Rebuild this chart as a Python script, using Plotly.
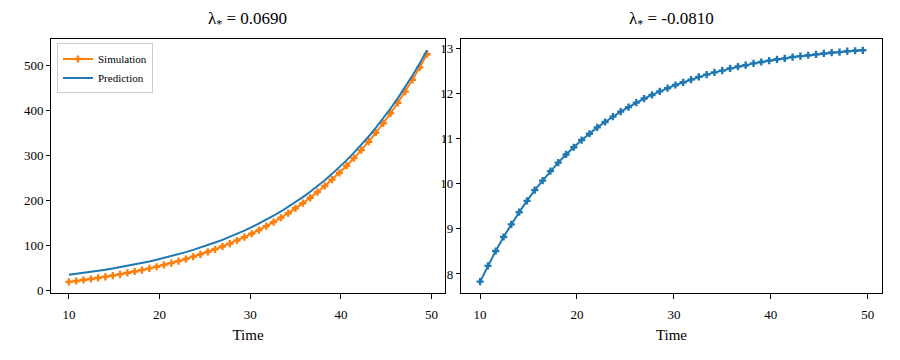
import plotly.graph_objects as go
from plotly.subplots import make_subplots

time = [10.00, 10.81, 11.61, 12.42, 13.22, 14.03, 14.84, 15.64, 16.45, 17.26,
        18.06, 18.87, 19.67, 20.48, 21.29, 22.09, 22.90, 23.71, 24.51, 25.32,
        26.12, 26.93, 27.74, 28.54, 29.35, 30.16, 30.96, 31.77, 32.57, 33.38,
        34.19, 34.99, 35.80, 36.61, 37.41, 38.22, 39.02, 39.83, 40.64, 41.44,
        42.25, 43.06, 43.86, 44.67, 45.47, 46.28, 47.09, 47.89, 48.70, 49.50]

simulation = [19.0, 21.0, 23.2, 25.4, 27.8, 30.4, 33.1, 35.9, 38.9, 42.1,
              45.4, 49.0, 52.7, 56.7, 60.8, 65.3, 69.9, 74.9, 80.1, 85.6,
              91.5, 97.7, 104.2, 111.1, 118.4, 126.1, 134.2, 142.9, 152.0, 161.6,
              171.8, 182.6, 194.0, 206.0, 218.7, 232.2, 246.4, 261.4, 277.3, 294.2,
              311.9, 330.7, 350.6, 371.6, 393.8, 417.2, 442.1, 468.3, 496.0, 525.3]

prediction = [35.0, 37.0, 39.1, 41.4, 43.7, 46.2, 48.9, 51.7, 54.6, 57.7,
              61.0, 64.5, 68.2, 72.1, 76.2, 80.6, 85.2, 90.1, 95.2, 100.7,
              106.5, 112.5, 119.0, 125.8, 133.0, 140.6, 148.6, 157.1, 166.1, 175.6,
              185.7, 196.3, 207.5, 219.4, 231.9, 245.2, 259.2, 274.0, 289.7, 306.3,
              323.8, 342.3, 361.9, 382.6, 404.5, 427.6, 452.1, 478.0, 505.3, 534.2]

right_series = [7.83, 8.18, 8.51, 8.82, 9.10, 9.37, 9.62, 9.86, 10.07, 10.28,
                10.47, 10.65, 10.81, 10.97, 11.11, 11.25, 11.37, 11.49, 11.60, 11.70,
                11.80, 11.89, 11.97, 12.05, 12.12, 12.19, 12.25, 12.31, 12.37, 12.42,
                12.47, 12.51, 12.56, 12.60, 12.63, 12.67, 12.70, 12.73, 12.76, 12.78,
                12.81, 12.83, 12.85, 12.87, 12.89, 12.91, 12.92, 12.94, 12.95, 12.96]

titles = ["λ<sub>*</sub> = 0.0690", "λ<sub>*</sub> = -0.0810"]

ORANGE = "#ff7f0e"
BLUE = "#1f77b4"
FONT = "Liberation Serif, DejaVu Serif, serif"

# page body adds an 8px margin, so the figure is a bit smaller than the window
fig = make_subplots(rows=1, cols=2)

fig.add_scatter(
    x=time, y=simulation, name="Simulation", mode="lines+markers",
    line=dict(color=ORANGE, width=2),
    marker=dict(symbol="cross", size=6, color=ORANGE),
    row=1, col=1,
)
fig.add_scatter(
    x=time, y=prediction, name="Prediction", mode="lines",
    line=dict(color=BLUE, width=2),
    row=1, col=1,
)
fig.add_scatter(
    x=time, y=right_series, mode="lines+markers", showlegend=False,
    line=dict(color=BLUE, width=2),
    marker=dict(symbol="cross", size=6, color=BLUE),
    row=1, col=2,
)

axis_style = dict(
    showline=True, linecolor="black", linewidth=1, mirror=True,
    ticks="outside", ticklen=4, tickcolor="black", showgrid=False,
    zeroline=False, tickfont=dict(family=FONT, size=13, color="black"),
)

fig.update_xaxes(axis_style, range=[8.025, 51.475], tickvals=[10, 20, 30, 40, 50],
                 ticklen=5, ticklabelstandoff=4,
                 title=dict(text="Time", font=dict(family=FONT, size=15, color="black"),
                            standoff=8))
fig.update_yaxes(axis_style)
fig.update_yaxes(range=[-6.5, 560], tickvals=[0, 100, 200, 300, 400, 500], row=1, col=1)
fig.update_yaxes(range=[7.57, 13.22], tickvals=[8, 9, 10, 11, 12, 13], row=1, col=2)

fig.update_layout(
    width=892, height=352,
    margin=dict(l=0, r=0, t=0, b=0),
    plot_bgcolor="white", paper_bgcolor="white",
    xaxis=dict(domain=[0.0482, 0.4899]),
    xaxis2=dict(domain=[0.5078, 0.9798]),
    yaxis=dict(domain=[0.1776, 0.9119]),
    yaxis2=dict(domain=[0.1776, 0.9119]),
    legend=dict(
        x=0.0549, y=0.8977, xanchor="left", yanchor="top",
        bordercolor="#cccccc", borderwidth=1, bgcolor="white",
        font=dict(family=FONT, size=11, color="black"),
        tracegroupgap=0, itemwidth=30,
    ),
    font=dict(family=FONT, color="black"),
)

for cx, text in zip([0.269, 0.7438], titles):
    fig.add_annotation(
        x=cx, y=0.966, xref="paper", yref="paper", xanchor="center", yanchor="middle",
        text=text, showarrow=False, font=dict(family=FONT, size=17, color="black"),
    )

fig.write_html("out.html")
